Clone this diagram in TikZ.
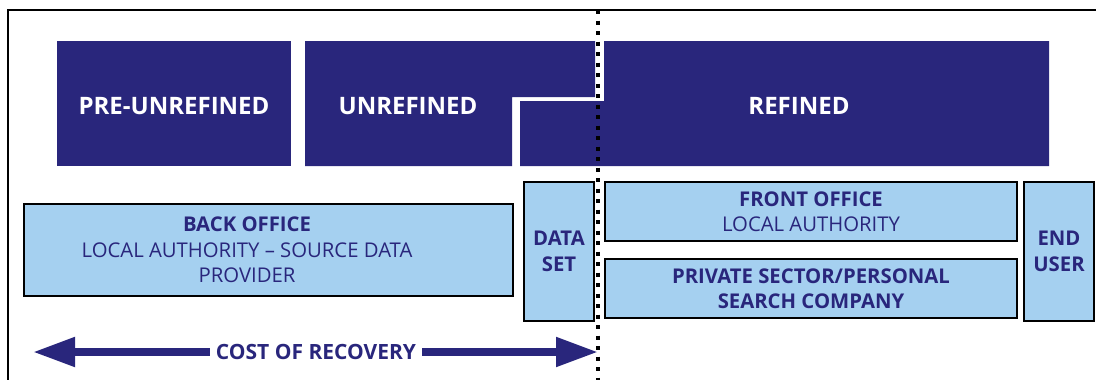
\documentclass[tikz,border=0pt]{standalone}
\usepackage{fontspec}
\setmainfont{Open Sans}
\usetikzlibrary{arrows.meta}
\definecolor{navy}{RGB}{41, 38, 124}
\definecolor{paleblue}{RGB}{165, 208, 240}

\begin{document}
\begin{tikzpicture}[x=1pt, y=-1pt,
		stage/.style={text=white, font=\fontsize{24}{28}\selectfont\bfseries},
		party/.style={draw=black, line width=1.8pt, fill=paleblue, text=navy, inner sep=0pt, align=center, font=\fontsize{20.3}{25.5}\selectfont},
		partytext/.style={text=navy, align=center, font=\fontsize{20.3}{25.5}\selectfont}]
		\useasboundingbox (0,0) rectangle (1096,380);
		\draw[line width=2pt] (8,380) -- (8,10) -- (1096,10);
		% stages of the data
		\fill[navy] (57,41) rectangle (291,166);
		\fill[navy] (305,41) -- (595,41) -- (595,97) -- (512,97) -- (512,166) -- (305,166) -- cycle;
		\fill[navy] (604,41) -- (1049,41) -- (1049,166) -- (520,166) -- (520,101) -- (604,101) -- cycle;
		\node[stage] (preunrefined) at (174,106) {PRE-UNREFINED};
		\node[stage] (unrefined) at (408,106) {UNREFINED};
		\node[stage] (refined) at (799,106) {REFINED};
		% who holds it
		\node[party, minimum width=489pt, minimum height=92pt] (backoffice) at (268.5,250) {};
		\node[partytext] (backtext) at (247,250) {\textbf{BACK OFFICE}\\LOCAL AUTHORITY -- SOURCE DATA\\PROVIDER};
		\node[party, minimum width=70pt, minimum height=139pt] (dataset) at (559,251.5) {\textbf{DATA}\\\textbf{SET}};
		\node[party, minimum width=412pt, minimum height=59pt] (frontoffice) at (811,211.5) {\textbf{FRONT OFFICE}\\LOCAL AUTHORITY};
		\node[party, minimum width=412pt, minimum height=59pt] (private) at (811,288.5) {\textbf{PRIVATE SECTOR/PERSONAL}\\\textbf{SEARCH COMPANY}};
		\node[party, minimum width=70pt, minimum height=139pt] (enduser) at (1059,251.5) {\textbf{END}\\\textbf{USER}};
		% cost arrow
		\node[text=navy, inner sep=6pt, font=\fontsize{21}{25}\selectfont\bfseries] (cost) at (316,352) {COST OF RECOVERY};
		\coordinate (costleft) at (33,352);
		\coordinate (costright) at (598,352);
		\draw[navy, line width=8pt, -{Triangle[length=42pt, width=28pt]}] (cost.west) -- (costleft);
		\draw[navy, line width=8pt, -{Triangle[length=42pt, width=28pt]}] (cost.east) -- (costright);
		\draw[line width=3.5pt, dash pattern=on 4pt off 6.5pt] (598,10) -- (598,380);
	\end{tikzpicture}
\end{document}
